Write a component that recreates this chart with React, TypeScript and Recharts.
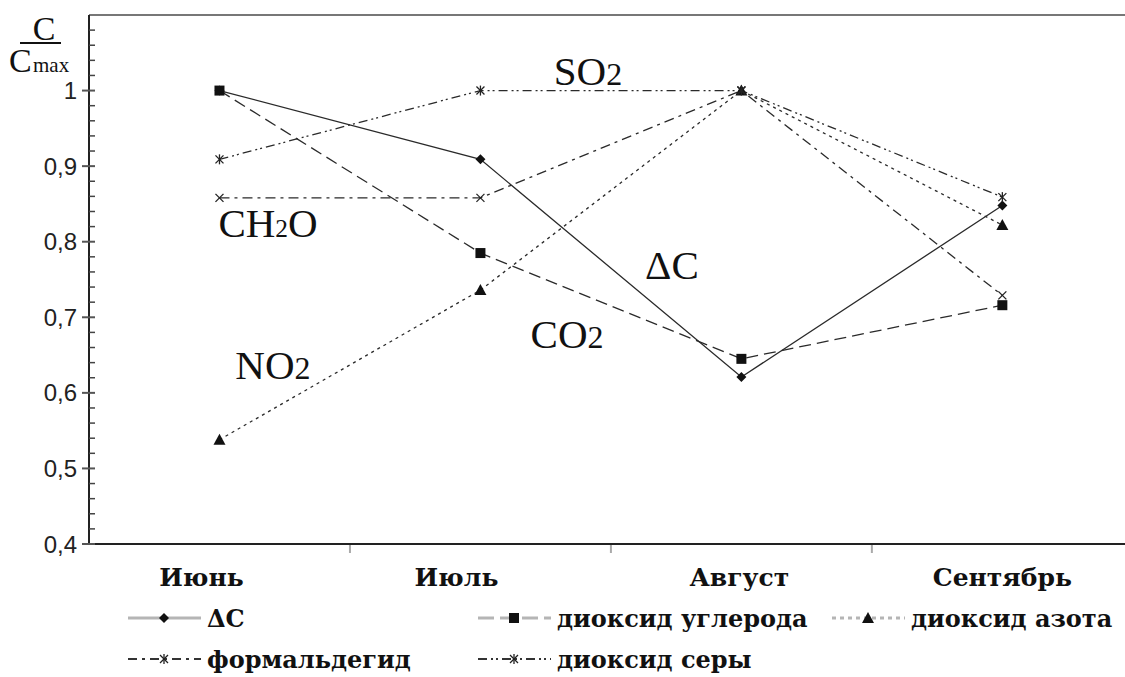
import React from 'react';
import { LineChart, Line, XAxis, YAxis, ReferenceLine, ReferenceDot } from 'recharts';

const months = ['Июнь', 'Июль', 'Август', 'Сентябрь'];
const deltaC = [1.0, 0.909, 0.621, 0.848];
const co2 = [1.0, 0.785, 0.645, 0.716];
const no2 = [0.538, 0.736, 1.0, 0.822];
const ch2o = [0.858, 0.858, 1.0, 0.729];
const so2 = [0.909, 1.0, 1.0, 0.859];

const yTicks = [0.4, 0.42, 0.44, 0.46, 0.48, 0.5, 0.52, 0.54, 0.56, 0.58, 0.6, 0.62, 0.64, 0.66, 0.68,
  0.7, 0.72, 0.74, 0.76, 0.78, 0.8, 0.82, 0.84, 0.86, 0.88, 0.9, 0.92, 0.94, 0.96, 0.98, 1.0,
  1.02, 1.04, 1.06, 1.08];
const xTicks = [0, 0.5, 1, 1.5, 2, 2.5, 3];
const monthLabelShift = [-18, -24, -2, 0];

const annotations = [
  { main: 'SO', sub: '2', after: '', x: 1.412, y: 1.026, subScale: 0.78 },
  { main: 'CH', sub: '2', after: 'O', x: 0.186, y: 0.825, subScale: 0.62 },
  { main: 'ΔC', sub: '', after: '', x: 1.734, y: 0.769, subScale: 1 },
  { main: 'CO', sub: '2', after: '', x: 1.332, y: 0.679, subScale: 0.78 },
  { main: 'NO', sub: '2', after: '', x: 0.205, y: 0.637, subScale: 0.78 },
];

const data = months.map((m, i) => ({
  i, month: m, deltaC: deltaC[i], co2: co2[i], no2: no2[i], ch2o: ch2o[i], so2: so2[i],
}));

const SERIF = '"Liberation Serif", "DejaVu Serif", serif';
const BOLDSERIF = '"DejaVu Serif", serif';
const SANS = '"Liberation Sans", Arial, sans-serif';
const LINE = '#2a2a2a';

const Diamond = ({ cx, cy }: any) => (
  <path d={`M${cx},${cy - 5} L${cx + 5},${cy} L${cx},${cy + 5} L${cx - 5},${cy} Z`} fill="#111" />
);
const Square = ({ cx, cy }: any) => <rect x={cx - 5} y={cy - 5} width={10} height={10} fill="#111" />;
const Triangle = ({ cx, cy }: any) => (
  <path d={`M${cx},${cy - 6} L${cx + 6},${cy + 5} L${cx - 6},${cy + 5} Z`} fill="#111" />
);
const Cross = ({ cx, cy }: any) => (
  <g stroke="#222" strokeWidth={1.3}>
    <line x1={cx - 4} y1={cy - 4} x2={cx + 4} y2={cy + 4} />
    <line x1={cx - 4} y1={cy + 4} x2={cx + 4} y2={cy - 4} />
  </g>
);
const Star = ({ cx, cy }: any) => (
  <g stroke="#222" strokeWidth={1.3}>
    <line x1={cx - 4} y1={cy - 4} x2={cx + 4} y2={cy + 4} />
    <line x1={cx - 4} y1={cy + 4} x2={cx + 4} y2={cy - 4} />
    <line x1={cx} y1={cy - 5} x2={cx} y2={cy + 5} />
  </g>
);

const XTick = (props: any) => {
  const { x, y, payload } = props;
  const v = payload.value;
  if (Number.isInteger(v)) {
    return (
      <text x={x + monthLabelShift[v]} y={y + 42} textAnchor="middle" fontFamily={BOLDSERIF}
        fontWeight="bold" fontSize={25} fill="#111">{months[v]}</text>
    );
  }
  return <line x1={x} x2={x} y1={y + 1} y2={y + 9} stroke="#aaa" strokeWidth={2} />;
};

const YTick = (props: any) => {
  const { x, y, payload } = props;
  const v = payload.value;
  const major = Math.abs(v * 10 - Math.round(v * 10)) < 1e-6;
  if (major) {
    const label = Math.abs(v - 1) < 1e-6 ? '1' : v.toFixed(1).replace('.', ',');
    return (
      <g>
        <line x1={x - 7} x2={x + 6} y1={y} y2={y} stroke="#555" strokeWidth={2} />
        <text x={x - 12} y={y} dy="0.36em" textAnchor="end" fontFamily={SANS} fontSize={24} fill="#222">{label}</text>
      </g>
    );
  }
  return <line x1={x} x2={x + 6} y1={y} y2={y} stroke="#444" strokeWidth={1.5} />;
};

const FracLabel = () => (
  <g fontFamily={SERIF} fill="#111">
    <text x={44} y={40} textAnchor="middle" fontSize={34}>C</text>
    <line x1={20} x2={61} y1={43} y2={43} stroke="#111" strokeWidth={2} />
    <text x={9} y={72} fontSize={34}>C</text>
    <text x={33} y={72} fontSize={21}>max</text>
  </g>
);

const Annot = (a: any) => (props: any) => {
  const { cx, cy } = props;
  const fs = 41;
  return (
    <text x={cx} y={cy} dy="0.35em" textAnchor="middle" fontFamily={SERIF} fontSize={fs} fill="#111">
      {a.main}
      {a.sub ? <tspan fontSize={fs * a.subScale}>{a.sub}</tspan> : null}
      {a.after ? <tspan fontSize={fs}>{a.after}</tspan> : null}
    </text>
  );
};

const legendItems = [
  { name: 'ΔC', dash: '', stroke: '#b5b5b5', marker: Diamond, x: 128, row: 0 },
  { name: 'диоксид углерода', dash: '16 6', stroke: '#b5b5b5', marker: Square, x: 478, row: 0 },
  { name: 'диоксид азота', dash: '4 4', stroke: '#b5b5b5', marker: Triangle, x: 832, row: 0 },
  { name: 'формальдегид', dash: '9 5 3 5', stroke: '#333', marker: Star, x: 128, row: 1 },
  { name: 'диоксид серы', dash: '9 4 2 3 2 4', stroke: '#333', marker: Star, x: 478, row: 1 },
];

const Legend2 = () => (
  <svg width={1125} height={80} style={{ position: 'absolute', left: 0, top: 597 }}>
    {legendItems.map((it) => {
      const cy = it.row === 0 ? 21 : 62;
      const M = it.marker;
      return (
        <g key={it.name}>
          <line x1={it.x} x2={it.x + 73} y1={cy} y2={cy} stroke={it.stroke} strokeWidth={it.row === 0 ? 3 : 2}
            strokeDasharray={it.dash || undefined} />
          <M cx={it.x + 36} cy={cy} />
          <text x={it.x + 79} y={cy} dy="0.36em" fontFamily={BOLDSERIF} fontWeight="bold" fontSize={24} fill="#111">{it.name}</text>
        </g>
      );
    })}
  </svg>
);

export default function App() {
  return (
    <div style={{ position: 'absolute', left: 0, top: 0, width: 1125, height: 677, background: '#fff' }}>
      <LineChart width={1125} height={677} data={data} margin={{ top: 15, right: 0, left: 0, bottom: 93 }}>
        <XAxis dataKey="i" type="number" domain={[-0.5, 3.47]} allowDataOverflow ticks={xTicks} interval={0}
          tickLine={false} tickSize={0} tickMargin={0} tick={(p: any) => <XTick {...p} />}
          axisLine={{ stroke: '#222', strokeWidth: 2 }} height={40} />
        <YAxis type="number" domain={[0.4, 1.1]} allowDataOverflow ticks={yTicks} interval={0} width={89}
          tickLine={false} tickSize={0} tickMargin={0} tick={(p: any) => <YTick {...p} />}
          axisLine={{ stroke: '#222', strokeWidth: 2 }} label={<FracLabel />} />
        <ReferenceLine y={1.1} stroke="#777" strokeWidth={2} />
        <Line dataKey="deltaC" stroke={LINE} strokeWidth={1.3} isAnimationActive={false}
          dot={(p: any) => <Diamond key={`d${p.index}`} {...p} />} />
        <Line dataKey="co2" stroke={LINE} strokeWidth={1.3} strokeDasharray="12 6" isAnimationActive={false}
          dot={(p: any) => <Square key={`s${p.index}`} {...p} />} />
        <Line dataKey="no2" stroke={LINE} strokeWidth={1.3} strokeDasharray="3 4" isAnimationActive={false}
          dot={(p: any) => <Triangle key={`t${p.index}`} {...p} />} />
        <Line dataKey="ch2o" stroke={LINE} strokeWidth={1.3} strokeDasharray="10 5 3 5" isAnimationActive={false}
          dot={(p: any) => <Cross key={`c${p.index}`} {...p} />} />
        <Line dataKey="so2" stroke={LINE} strokeWidth={1.3} strokeDasharray="9 4 2 3 2 4" isAnimationActive={false}
          dot={(p: any) => <Star key={`a${p.index}`} {...p} />} />
        {annotations.map((a) => (
          <ReferenceDot key={a.main + a.after} x={a.x} y={a.y} r={0} shape={Annot(a)} />
        ))}
      </LineChart>
      <Legend2 />
    </div>
  );
}
